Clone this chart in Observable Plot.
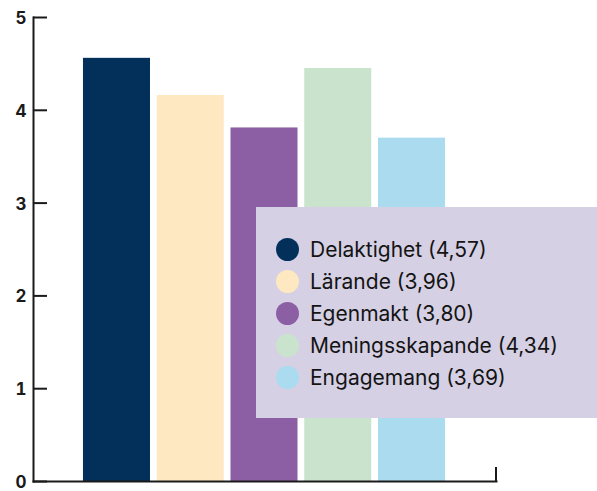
<!DOCTYPE html>
<html><head><meta charset="utf-8">
<script src="https://cdn.jsdelivr.net/npm/d3@7"></script>
<script src="https://cdn.jsdelivr.net/npm/@observablehq/plot@0.6"></script>
<style>
body{margin:0;background:#fff;font-family:Inter,"Noto Sans",sans-serif;}
#wrap{position:relative;width:597px;height:491px;}
#legend{position:absolute;left:256px;top:207px;width:341px;height:211px;background:#d5d0e4;box-sizing:border-box;padding-top:26px;padding-left:20px;}
.item{display:flex;align-items:center;height:32px;font-size:21px;color:#141414;font-family:Inter,"Noto Sans",sans-serif;}
.dot{width:23px;height:23px;border-radius:50%;margin-right:11px;flex:none;}
</style></head><body><div id="wrap"></div>
<script>
const categories = ["Delaktighet", "Lärande", "Egenmakt", "Meningsskapande", "Engagemang"];
const barValues = [4.56, 4.16, 3.81, 4.45, 3.70];
const legendValues = ["4,57", "3,96", "3,80", "4,34", "3,69"];
const colors = ["#03305a", "#fee8c1", "#8c5fa4", "#cae3cd", "#abdbef"];
const yTicks = [0, 1, 2, 3, 4, 5];

const data = categories.map((name, i) => ({name, value: barValues[i]}));
const axisColor = "#1a1a1a";

const plot = Plot.plot({
  width: 597,
  height: 491,
  marginLeft: 33,
  marginRight: 101,
  marginTop: 17,
  marginBottom: 10,
  style: {fontFamily: "Inter, 'Noto Sans', sans-serif", background: "#fff"},
  x: {type: "band", domain: categories, range: [79.6, 448.4], round: false, paddingInner: 0.0915, paddingOuter: 0.0457, axis: null},
  y: {domain: [0, 5], label: null, axis: null},
  color: {domain: categories, range: colors},
  marks: [
    Plot.barY(data, {x: "name", y: "value", fill: "name"}),
    Plot.axisY({anchor: "left", ticks: yTicks, tickSize: 14, dx: 14, tickFormat: () => "", label: null, stroke: axisColor, strokeWidth: 2}),
    Plot.axisY({anchor: "left", ticks: yTicks, tickSize: 0, tickPadding: 7, dy: 1, tickFormat: d3.format("d"), fontSize: 17, fontWeight: 700, fill: axisColor, label: null}),
    Plot.frame({anchor: "left", stroke: axisColor, strokeWidth: 2}),
    Plot.frame({anchor: "bottom", stroke: axisColor, strokeWidth: 2})
  ]
});

const wrap = document.getElementById("wrap");
wrap.appendChild(plot);

// small closing tick at right end of x axis
const ys = plot.scale("y");
const y0 = ys.apply(0);
const xEnd = 597 - 101;
d3.select(plot).append("line")
  .attr("x1", xEnd).attr("x2", xEnd)
  .attr("y1", y0 - 14).attr("y2", y0 + 1)
  .attr("stroke", axisColor).attr("stroke-width", 2);

// legend
const legend = document.createElement("div");
legend.id = "legend";
categories.forEach((c, i) => {
  const item = document.createElement("div");
  item.className = "item";
  const dot = document.createElement("span");
  dot.className = "dot";
  dot.style.background = colors[i];
  const label = document.createElement("span");
  label.textContent = `${c} (${legendValues[i]})`;
  item.appendChild(dot);
  item.appendChild(label);
  legend.appendChild(item);
});
wrap.appendChild(legend);
</script>
</body></html>
